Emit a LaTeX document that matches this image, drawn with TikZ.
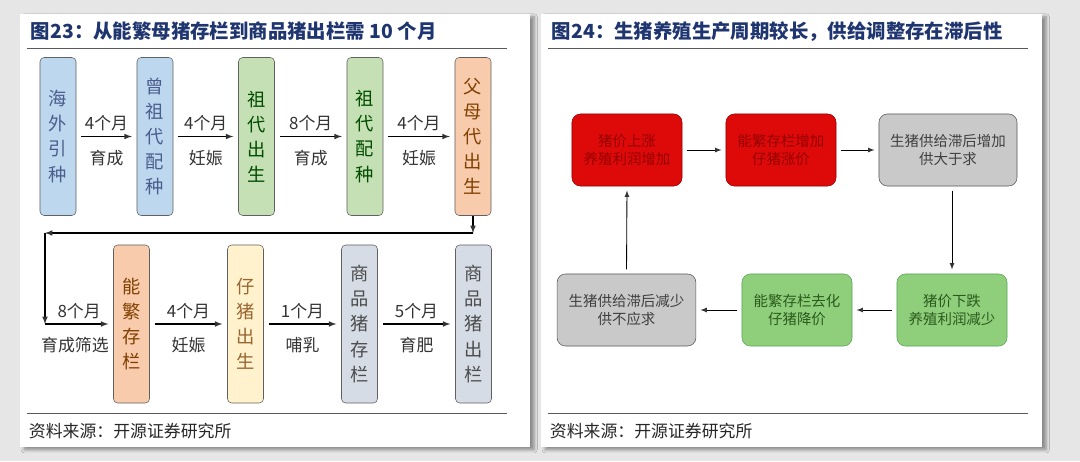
\documentclass[tikz,border=0pt]{standalone}
\usepackage{fontspec}
\setmainfont{Noto Sans CJK SC}
\usepackage{xcolor}
\usetikzlibrary{arrows,calc,shadows.blur}
\definecolor{titleblue}{HTML}{1F3570}
\definecolor{pagebg}{HTML}{E6E6E6}
\definecolor{fillblue}{HTML}{BDD7EE}
\definecolor{fillgreen}{HTML}{C5E0B4}
\definecolor{fillorange}{HTML}{F8CBAD}
\definecolor{fillyellow}{HTML}{FFF2CC}
\definecolor{fillgray}{HTML}{D6DCE5}
\definecolor{cycred}{HTML}{DE0A0A}
\definecolor{cycredtext}{HTML}{960000}
\definecolor{cycgray}{HTML}{C9C9C9}
\definecolor{cycgreen}{HTML}{8FCF7C}
\definecolor{cycgreentext}{HTML}{2B5A1C}
\tikzset{
	panel/.style={fill=white, draw=none, blur shadow={shadow xshift=3pt, shadow yshift=-2pt, shadow blur steps=6}},
	stage/.style={draw=gray!75!black, rounded corners=3pt, minimum width=0.9cm, minimum height=3.95cm,
			align=center, inner sep=1pt, font=\fontsize{13}{17.8}\selectfont},
	cyc/.style={draw=gray!70!black, rounded corners=6pt, minimum width=2.75cm, minimum height=1.8cm,
			align=center, font=\fontsize{10.3}{13.2}\selectfont},
	flow/.style={-latex, thick, shorten <=3.5pt, shorten >=3.5pt},
	loopflow/.style={-latex, thick},
	thin flow/.style={-latex, semithick, shorten <=3pt, shorten >=3pt},
	lbl/.style={font=\fontsize{12}{14}\selectfont, text=black!80},
	heading/.style={anchor=west, text=titleblue, font=\fontsize{13.8}{16}\selectfont\bfseries},
	source/.style={anchor=west, text=black!85, font=\fontsize{12}{14}\selectfont},
	rule/.style={draw=gray!70!black, line width=0.6pt}
}

\begin{document}
\begin{tikzpicture}[x=0.025cm, y=-0.025cm]
        \fill[pagebg] (0, 0) rectangle (1080, 461);
        \useasboundingbox (0, 0) rectangle (1080, 461);
        \path[panel] (20, 14) rectangle (530, 447);
        \path[panel] (541, 14) rectangle (1042, 447);
        % left panel
        \node[heading] (title_L) at (26, 31) {图23：从能繁母猪存栏到商品猪出栏需 10 个月};
        \draw[rule] (27, 48) -- (507, 48);
        \node[stage, fill=fillblue, text=titleblue!80] (stage_1) at (58, 136.5) {海\\外\\引\\种};
        \node[stage, fill=fillblue, text=titleblue!80] (stage_2) at (155, 136.5) {曾\\祖\\代\\配\\种};
        \node[stage, fill=fillgreen, text=green!30!black] (stage_3) at (256.5, 136.5) {祖\\代\\出\\生};
        \node[stage, fill=fillgreen, text=green!30!black] (stage_4) at (365, 136.5) {祖\\代\\配\\种};
        \node[stage, fill=fillorange, text=orange!50!black] (stage_5) at (473, 136.5) {父\\母\\代\\出\\生};
        \node[stage, fill=fillorange, text=orange!50!black] (stage_6) at (131.5, 324) {能\\繁\\存\\栏};
        \node[stage, fill=fillyellow, text=brown!80!black] (stage_7) at (245.5, 324) {仔\\猪\\出\\生};
        \node[stage, fill=fillgray, text=black!70] (stage_8) at (359.5, 324) {商\\品\\猪\\存\\栏};
        \node[stage, fill=fillgray, text=black!70] (stage_9) at (473.5, 324) {商\\品\\猪\\出\\栏};
        \draw[flow] (stage_1) -- node[lbl, above]{4个月} node[lbl, below=6pt]{育成} (stage_2);
        \draw[flow] (stage_2) -- node[lbl, above]{4个月} node[lbl, below=6pt]{妊娠} (stage_3);
        \draw[flow] (stage_3) -- node[lbl, above]{8个月} node[lbl, below=6pt]{育成} (stage_4);
        \draw[flow] (stage_4) -- node[lbl, above]{4个月} node[lbl, below=6pt]{妊娠} (stage_5);
        \coordinate (turn_1) at (473, 233);
        \coordinate (turn_2) at (45, 233);
        \coordinate (turn_3) at (45, 324);
        \draw[loopflow] (stage_5.south) -- (turn_1);
        \draw[loopflow] (turn_1) -- (turn_2);
        \draw[loopflow] (turn_2) -- (turn_3);
        \draw[loopflow, shorten >=3.5pt] (turn_3) -- node[lbl, above]{8个月} node[lbl, below=6pt, xshift=-3pt]{育成筛选} (stage_6);
        \draw[flow] (stage_6) -- node[lbl, above]{4个月} node[lbl, below=6pt]{妊娠} (stage_7);
        \draw[flow] (stage_7) -- node[lbl, above]{1个月} node[lbl, below=6pt]{哺乳} (stage_8);
        \draw[flow] (stage_8) -- node[lbl, above]{5个月} node[lbl, below=6pt]{育肥} (stage_9);
        \draw[rule] (27, 413) -- (507, 413);
        \node[source] (src_L) at (24, 431) {资料来源：开源证券研究所};
        % right panel
        \node[heading] (title_R) at (547, 32) {图24：生猪养殖生产周期较长，供给调整存在滞后性};
        \draw[rule] (548, 48) -- (1028, 48);
        \node[cyc, fill=cycred, draw=red!60!black, text=cycredtext] (cyc_1) at (627, 150) {猪价上涨\\养殖利润增加};
        \node[cyc, fill=cycred, draw=red!60!black, text=cycredtext] (cyc_2) at (781, 150) {能繁存栏增加\\仔猪涨价};
        \node[cyc, fill=cycgray, text=black!75, minimum width=3.45cm] (cyc_3) at (948, 150) {生猪供给滞后增加\\供大于求};
        \node[cyc, fill=cycgreen, draw=green!30!gray, text=cycgreentext] (cyc_4) at (952, 310) {猪价下跌\\养殖利润减少};
        \node[cyc, fill=cycgreen, draw=green!30!gray, text=cycgreentext] (cyc_5) at (797, 310) {能繁存栏去化\\仔猪降价};
        \node[cyc, fill=cycgray, text=black!75, minimum width=3.47cm] (cyc_6) at (626.5, 310) {生猪供给滞后减少\\供不应求};
        \draw[thin flow] (cyc_1) -- (cyc_2);
        \draw[thin flow] (cyc_2) -- (cyc_3);
        \draw[thin flow] (cyc_3.south -| cyc_4.north) -- (cyc_4.north);
        \draw[thin flow] (cyc_4) -- (cyc_5);
        \draw[thin flow] (cyc_5) -- (cyc_6);
        \draw[thin flow] (cyc_6.north) -- (cyc_1.south);
        \draw[rule] (548, 413) -- (1028, 413);
        \node[source] (src_R) at (545, 431) {资料来源：开源证券研究所};
\end{tikzpicture}
\end{document}
